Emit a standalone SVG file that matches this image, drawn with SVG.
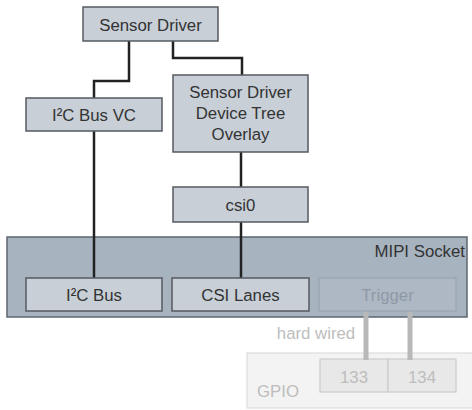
<svg xmlns="http://www.w3.org/2000/svg" width="472" height="410" viewBox="0 0 472 410">
<style>
text{font-family:"Liberation Sans",Arial,sans-serif;font-size:16.8px;fill:#333;text-anchor:middle}
.box{fill:#c8cfd7;stroke:#555a60;stroke-width:1.5}
.sock{fill:#a8b3c0;stroke:#5e6670;stroke-width:1.5}
.trig{fill:#aeb8c4;stroke:#99a3af;stroke-width:1.2}
.ttxt{fill:#8e98a5}
.gpio{fill:#f3f3f3;stroke:#dddddd;stroke-width:1.2}
.pin{fill:#e8e8e8;stroke:#cccccc;stroke-width:1.2}
.ftxt{fill:#bdbdbd}
.con{fill:none;stroke:#222;stroke-width:2.5}
.wire{fill:none;stroke:#b8b8b8;stroke-width:5}
</style>
<g id="mipi-socket"><rect class="sock" x="7" y="237" width="460" height="80"/><text x="465" y="257" style="text-anchor:end">MIPI Socket</text></g>
<g id="gpio"><rect class="gpio" x="247" y="353" width="230" height="55"/><text class="ftxt" x="257" y="397" style="text-anchor:start">GPIO</text></g>
<g id="pin133"><rect class="pin" x="320" y="359" width="68" height="33"/><text class="ftxt" x="354" y="383">133</text></g>
<g id="pin134"><rect class="pin" x="388" y="359" width="68" height="33"/><text class="ftxt" x="422" y="383">134</text></g>
<g id="connectors">
<path class="con" d="M129 41V81H94V98"/>
<path class="con" d="M173 41V58H242V75"/>
<path class="con" d="M94 131V278"/>
<path class="con" d="M241 152V187"/>
<path class="con" d="M241 222V278"/>
<path class="wire" d="M366 311V360M410 311V360"/>
<text class="ftxt" x="316" y="339">hard wired</text>
</g>
<g id="sensor-driver"><rect class="box" x="83" y="7" width="135" height="34"/><text x="150.5" y="30.5">Sensor Driver</text></g>
<g id="i2c-bus-vc"><rect class="box" x="26" y="98" width="136" height="33"/><text x="94" y="120.5">I²C Bus VC</text></g>
<g id="overlay"><rect class="box" x="173" y="75" width="135" height="77"/><text x="240.5" y="98">Sensor Driver</text><text x="240.5" y="119">Device Tree</text><text x="240.5" y="140">Overlay</text></g>
<g id="csi0"><rect class="box" x="173" y="187" width="135" height="35"/><text x="240.5" y="211">csi0</text></g>
<g id="i2c-bus"><rect class="box" x="26" y="278" width="136" height="33"/><text x="94" y="301">I²C Bus</text></g>
<g id="csi-lanes"><rect class="box" x="172" y="278" width="137" height="33"/><text x="240.5" y="301">CSI Lanes</text></g>
<g id="trigger"><rect class="trig" x="319" y="278" width="137" height="33"/><text class="ttxt" x="387.5" y="301">Trigger</text></g>
</svg>
